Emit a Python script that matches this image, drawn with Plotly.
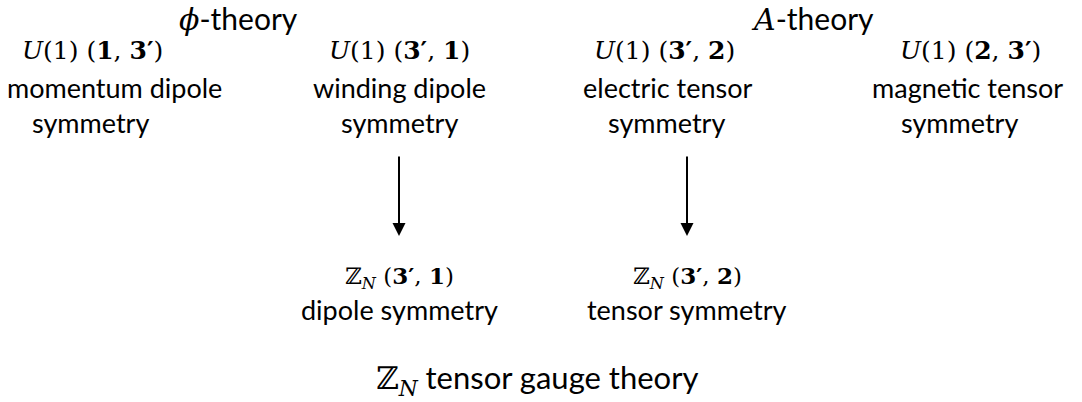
import plotly.graph_objects as go

# ---- data: diagram nodes ----
headers = ["<span style='font-family:DejaVu Serif'><i>ϕ</i></span>-theory",
           "<span style='font-family:DejaVu Serif'><i>A</i></span>-theory"]
header_x = [238, 812]

top_math = [
    "<i>U</i>(1) (<b>1</b>, <b>3′</b>)",
    "<i>U</i>(1) (<b>3′</b>, <b>1</b>)",
    "<i>U</i>(1) (<b>3′</b>, <b>2</b>)",
    "<i>U</i>(1) (<b>2</b>, <b>3′</b>)",
]
top_math_x = [92, 399, 664, 970]
top_line1 = ["momentum dipole", "winding dipole", "electric tensor", "magnetic tensor"]
top_line1_x = [114, 399, 668, 967]
top_line2 = ["symmetry", "symmetry", "symmetry", "symmetry"]
top_line2_x = [90, 399, 666, 959]

bottom_math = ["ℤ<sub><i>N</i></sub> (<b>3′</b>, <b>1</b>)", "ℤ<sub><i>N</i></sub> (<b>3′</b>, <b>2</b>)"]
bottom_line = ["dipole symmetry", "tensor symmetry"]
bottom_x = [399, 687]

footer = "<span style='font-family:DejaVu Serif'>ℤ<sub><i>N</i></sub></span> tensor gauge theory"
footer_x = 537

# arrows: x position, start y, end y
arrow_x = [399, 687]
arrow_y0 = [155, 155]
arrow_y1 = [236, 236]

# row positions
ROW_Y = dict(header=18, math=50, line1=87, line2=122, bmath=277, bline=309, footer=379)

SANS = "Lato, 'Open Sans', sans-serif"
SERIF = "'DejaVu Serif', 'Liberation Serif', serif"

fig = go.Figure()
fig.add_trace(go.Scatter(x=[0, 1082], y=[0, 402], mode="markers",
                         marker=dict(opacity=0), hoverinfo="skip", showlegend=False))


def txt(x, y, s, family, size):
    fig.add_annotation(x=x, y=y, text=s, showarrow=False, xanchor="center", yanchor="middle",
                       font=dict(family=family, size=size, color="black"))


for s, x in zip(headers, header_x):
    txt(x, ROW_Y["header"], s, SANS, 30)

for s, x in zip(top_math, top_math_x):
    txt(x, ROW_Y["math"], s, SERIF, 25)
for s, x in zip(top_line1, top_line1_x):
    txt(x, ROW_Y["line1"], s, SANS, 27)
for s, x in zip(top_line2, top_line2_x):
    txt(x, ROW_Y["line2"], s, SANS, 27)

for s, x in zip(bottom_math, bottom_x):
    txt(x, ROW_Y["bmath"], s, SERIF, 23)
for s, x in zip(bottom_line, bottom_x):
    txt(x, ROW_Y["bline"], s, SANS, 27)

txt(footer_x, ROW_Y["footer"], footer, SANS, 31)

for x, y0, y1 in zip(arrow_x, arrow_y0, arrow_y1):
    fig.add_annotation(x=x, y=y1, ax=x, ay=y0, xref="x", yref="y", axref="x", ayref="y",
                       text="", showarrow=True, arrowhead=2, arrowsize=1.3, arrowwidth=2,
                       arrowcolor="black")

fig.update_layout(
    width=1082, height=402,
    margin=dict(l=0, r=0, t=0, b=0),
    paper_bgcolor="white", plot_bgcolor="white",
    xaxis=dict(range=[0, 1082], visible=False, fixedrange=True),
    yaxis=dict(range=[402, 0], visible=False, fixedrange=True),
)
fig.write_html("out.html", config={"displayModeBar": False},
               post_script="document.body.style.margin='0';document.body.style.overflow='hidden';")
